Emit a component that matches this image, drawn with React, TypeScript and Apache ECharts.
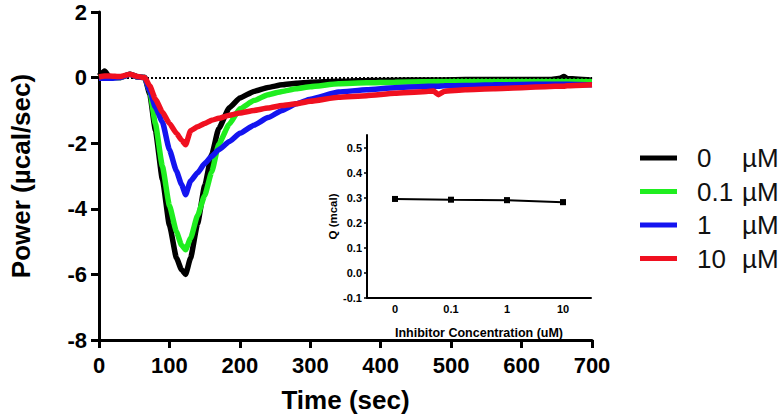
import React, { useEffect, useRef } from "react";
import * as echarts from "echarts";

const times = [0, 8, 15, 30, 44, 55, 65, 72, 80, 90, 100, 110, 117, 123, 130, 140, 150, 160, 170, 185, 200, 220, 240, 260, 280, 300, 340, 380, 420, 460, 475, 482, 490, 520, 560, 600, 640, 655, 660, 665, 700];
const black0 = [0.05, 0.2, 0.02, 0, 0.1, 0.02, 0, -0.5, -1.6, -3.1, -4.5, -5.5, -5.85, -6.0, -5.5, -4.45, -3.3, -2.35, -1.55, -0.92, -0.62, -0.42, -0.3, -0.22, -0.17, -0.14, -0.11, -0.09, -0.08, -0.07, -0.07, -0.07, -0.07, -0.06, -0.06, -0.06, -0.06, -0.02, 0.03, -0.03, -0.08];
const green01 = [0, 0.02, 0, 0, 0.1, 0.02, 0, -0.4, -1.4, -2.7, -3.9, -4.7, -5.1, -5.25, -4.9, -4.2, -3.6, -2.88, -2.03, -1.42, -0.95, -0.7, -0.52, -0.42, -0.34, -0.28, -0.19, -0.16, -0.14, -0.13, -0.12, -0.12, -0.12, -0.11, -0.11, -0.11, -0.11, -0.11, -0.11, -0.11, -0.12];
const blue1 = [-0.02, -0.02, -0.02, 0, 0.1, 0.02, 0, -0.4, -0.9, -1.35, -2.2, -2.85, -3.25, -3.57, -3.15, -2.9, -2.62, -2.4, -2.2, -1.95, -1.7, -1.45, -1.22, -1.0, -0.8, -0.66, -0.44, -0.37, -0.31, -0.27, -0.26, -0.26, -0.25, -0.24, -0.22, -0.21, -0.2, -0.2, -0.2, -0.2, -0.22];
const red10 = [0.02, 0.05, 0.05, 0.03, 0.1, 0.03, 0, -0.25, -0.65, -1.05, -1.4, -1.7, -1.9, -2.05, -1.62, -1.5, -1.4, -1.3, -1.24, -1.15, -1.08, -1.0, -0.93, -0.85, -0.8, -0.72, -0.6, -0.55, -0.48, -0.43, -0.41, -0.52, -0.42, -0.37, -0.34, -0.31, -0.27, -0.26, -0.26, -0.25, -0.22];
const zeroLine = [0];

const legendNums = ["0", "0.1", "1", "10"];
const seriesNames = ["0 µM", "0.1 µM", "1 µM", "10 µM"];
const colors = ["#000000", "#1fee1f", "#1414f0", "#f01020"];

const inhibitorCats = ["0", "0.1", "1", "10"];
const qValues = [0.295, 0.292, 0.29, 0.282];
const qErrors = [0.006, 0.005, 0.008, 0.008];

const xTicks = { min: 0, max: 700, interval: 100 };
const yTicks = { min: -8, max: 2, interval: 2 };

export default function App() {
  const ref = useRef<HTMLDivElement>(null);
  useEffect(() => {
    if (!ref.current) return;
    const chart = echarts.init(ref.current, null, { renderer: "svg" });
    const font = "Liberation Sans, Arial, sans-serif";
    const mainData = [black0, green01, blue1, red10];
    const order = [0, 1, 3, 2];
    const lineSeries = order.map((i) => ({
      name: seriesNames[i],
      type: "line",
      xAxisIndex: 0,
      yAxisIndex: 0,
      data: times.map((t, k) => [t, mainData[i][k]]),
      showSymbol: false,
      symbol: "none",
      smooth: 0.15,
      smoothMonotone: "x",
      lineStyle: { color: colors[i], width: 5.5 },
      itemStyle: { color: colors[i] },
      z: 3 + i,
    }));
    const legendMap: Record<string, string> = {};
    seriesNames.forEach((n, i) => (legendMap[n] = legendNums[i]));
    chart.setOption({
      animation: false,
      backgroundColor: "#ffffff",
      grid: [
        { left: 97, right: 186, top: 12, bottom: 80 },
        { left: 367, right: 187, top: 135, bottom: 122 },
      ],
      legend: {
        orient: "vertical",
        left: 635,
        top: 140,
        icon: "rect",
        itemWidth: 37,
        itemHeight: 5,
        itemGap: 7.5,
        data: seriesNames,
        formatter: (name: string) => `{n|${legendMap[name]}}{u|µM}`,
        textStyle: {
          padding: [0, 0, 0, 15],
          rich: {
            n: { fontFamily: font, fontSize: 26, color: "#111", width: 45, lineHeight: 30 },
            u: { fontFamily: font, fontSize: 26, color: "#111", lineHeight: 30 },
          },
        },
      },
      xAxis: [
        {
          type: "value",
          gridIndex: 0,
          ...xTicks,
          name: "Time (sec)",
          nameLocation: "middle",
          nameGap: 47,
          nameTextStyle: { fontFamily: font, fontWeight: "bold", fontSize: 26, color: "#000" },
          axisLine: { onZero: false, lineStyle: { color: "#000", width: 3 } },
          axisTick: { length: 8, lineStyle: { width: 3, color: "#000" } },
          axisLabel: { fontFamily: font, fontWeight: "bold", fontSize: 22, color: "#000", margin: 14 },
          splitLine: { show: false },
        },
        {
          type: "category",
          gridIndex: 1,
          data: inhibitorCats,
          boundaryGap: true,
          name: "Inhibitor Concentration (uM)",
          nameLocation: "middle",
          nameGap: 28,
          nameTextStyle: { fontFamily: font, fontWeight: "bold", fontSize: 12.5, color: "#000" },
          axisLine: { onZero: false, lineStyle: { color: "#000", width: 2 } },
          axisTick: { length: 3, lineStyle: { width: 1.5, color: "#000" } },
          axisLabel: { fontFamily: font, fontWeight: "bold", fontSize: 11, color: "#000", margin: 5 },
        },
      ],
      yAxis: [
        {
          type: "value",
          gridIndex: 0,
          ...yTicks,
          name: "Power (µcal/sec)",
          nameLocation: "middle",
          nameGap: 65,
          nameRotate: 90,
          nameTextStyle: { fontFamily: font, fontWeight: "bold", fontSize: 26, color: "#000" },
          axisLine: { show: true, onZero: false, lineStyle: { color: "#000", width: 3 } },
          axisTick: { show: true, length: 8, lineStyle: { width: 3, color: "#000" } },
          axisLabel: { fontFamily: font, fontWeight: "bold", fontSize: 22, color: "#000", margin: 12 },
          splitLine: { show: false },
        },
        {
          type: "value",
          gridIndex: 1,
          min: -0.1,
          max: 0.55,
          interval: 0.1,
          name: "Q (mcal)",
          nameLocation: "middle",
          nameGap: 28,
          nameRotate: 90,
          nameTextStyle: { fontFamily: font, fontWeight: "bold", fontSize: 11.5, color: "#000" },
          axisLine: { show: true, onZero: false, lineStyle: { color: "#000", width: 2 } },
          axisTick: { show: true, length: 3, lineStyle: { width: 1.5, color: "#000" } },
          axisLabel: {
            fontFamily: font,
            fontWeight: "bold",
            fontSize: 11,
            color: "#000",
            margin: 5,
            showMaxLabel: false,
            formatter: (v: number) => (Math.abs(v - 0.55) < 1e-6 ? "" : v.toFixed(1)),
          },
          splitLine: { show: false },
        },
      ],
      series: [
        {
          name: "zero",
          type: "line",
          xAxisIndex: 0,
          yAxisIndex: 0,
          data: [],
          markLine: {
            silent: true,
            symbol: "none",
            label: { show: false },
            lineStyle: { type: "dotted", color: "#000", width: 2 },
            data: zeroLine.map((v) => ({ yAxis: v })),
          },
          z: 2,
        },
        ...lineSeries,
        {
          name: "Q",
          type: "line",
          xAxisIndex: 1,
          yAxisIndex: 1,
          data: qValues,
          symbol: "rect",
          symbolSize: 6,
          lineStyle: { color: "#000", width: 2 },
          itemStyle: { color: "#000" },
          z: 5,
        },
        {
          name: "Qerr",
          type: "custom",
          xAxisIndex: 1,
          yAxisIndex: 1,
          data: qValues.map((v, i) => [i, v - qErrors[i], v + qErrors[i]]),
          renderItem: (params: any, api: any) => {
            const x = api.value(0);
            const lo = api.coord([x, api.value(1)]);
            const hi = api.coord([x, api.value(2)]);
            const w = 3;
            return {
              type: "group",
              children: [
                { type: "line", shape: { x1: lo[0], y1: lo[1], x2: hi[0], y2: hi[1] }, style: { stroke: "#000", lineWidth: 1.5 } },
                { type: "line", shape: { x1: lo[0] - w, y1: lo[1], x2: lo[0] + w, y2: lo[1] }, style: { stroke: "#000", lineWidth: 1.5 } },
                { type: "line", shape: { x1: hi[0] - w, y1: hi[1], x2: hi[0] + w, y2: hi[1] }, style: { stroke: "#000", lineWidth: 1.5 } },
              ],
            };
          },
          z: 6,
        },
      ],
    });
    return () => chart.dispose();
  }, []);
  return <div ref={ref} style={{ width: 778, height: 420, position: "absolute", left: 0, top: 0 }} />;
}
